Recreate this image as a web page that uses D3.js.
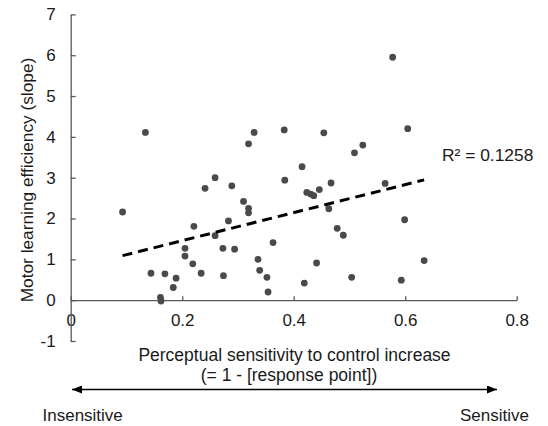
<!DOCTYPE html>
<html>
<head>
<meta charset="utf-8">
<script src="https://cdn.jsdelivr.net/npm/d3@7"></script>
<style>
  body { margin: 0; background: #fff; }
  text { font-family: "Liberation Sans", Arial, sans-serif; fill: #1a1a1a; }
  .axis text { font-size: 17px; }
  .axis path, .axis line { stroke: #595959; stroke-width: 1.3; }
</style>
</head>
<body>
<div class="chart"></div>
<script>
// sensitivity (x) and slope (y)
const sensitivity = [0.134, 0.093, 0.241, 0.259, 0.289, 0.221, 0.283, 0.259, 0.205, 0.205,
  0.273, 0.294, 0.219, 0.144, 0.169, 0.189, 0.234, 0.274, 0.184, 0.161,
  0.162, 0.329, 0.319, 0.383, 0.454, 0.524, 0.509, 0.415, 0.384, 0.467,
  0.4235, 0.4305, 0.436, 0.446, 0.310, 0.319, 0.319, 0.463, 0.478, 0.489,
  0.363, 0.336, 0.339, 0.352, 0.354, 0.441, 0.419, 0.504, 0.5775, 0.6045,
  0.564, 0.599, 0.634, 0.593]
const slope = [4.11, 2.16, 2.74, 3.00, 2.80, 1.81, 1.94, 1.58, 1.27, 1.08,
  1.27, 1.25, 0.89, 0.66, 0.645, 0.54, 0.66, 0.60, 0.31, 0.07,
  -0.02, 4.11, 3.83, 4.17, 4.10, 3.80, 3.61, 3.27, 2.94, 2.87,
  2.64, 2.60, 2.56, 2.71, 2.42, 2.25, 2.14, 2.24, 1.76, 1.59,
  1.41, 1.00, 0.73, 0.56, 0.20, 0.91, 0.42, 0.56, 5.95, 4.20,
  2.86, 1.97, 0.97, 0.49]
const xTicks = [0, 0.2, 0.4, 0.6, 0.8]
const yTicks = [-1, 0, 1, 2, 3, 4, 5, 6, 7]
const trendIntercept = 0.772
const trendSlope = 3.43
const rSquared = "R² = 0.1258"

const data = sensitivity.map((s, i) => ({x: s, y: slope[i]}))

const width = 548, height = 426

const svg = d3.select('.chart').append('svg')
    .attr('width', width)
    .attr('height', height)

const xScale = d3.scaleLinear().domain([0, 0.8]).range([70.7, 516.7])
const yScale = d3.scaleLinear().domain([-1, 7]).range([341, 14.4])

const xAxis = d3.axisBottom(xScale)
    .tickValues(xTicks)
    .tickFormat(d => d === 0 ? '0' : d3.format('.1f')(d))
    .tickSizeInner(-4)
    .tickSizeOuter(0)
    .tickPadding(14)

const yAxis = d3.axisLeft(yScale)
    .tickValues(yTicks)
    .tickFormat(d => String(d))   // plain hyphen for -1
    .tickSizeInner(-5)
    .tickSizeOuter(0)
    .tickPadding(15)

svg.append('g')
    .attr('class', 'axis x-axis')
    .attr('transform', `translate(0, ${yScale(0)})`)
    .call(xAxis)

svg.append('g')
    .attr('class', 'axis y-axis')
    .attr('transform', `translate(${xScale(0)}, 0)`)
    .call(yAxis)

svg.selectAll('.dot')
    .data(data)
    .enter()
    .append('circle')
    .attr('class', 'dot')
    .attr('cx', d => xScale(d.x))
    .attr('cy', d => yScale(d.y))
    .attr('r', 3.4)
    .style('fill', '#4a4a4a')

// linear trend line
const xMin = d3.min(sensitivity), xMax = d3.max(sensitivity)
svg.append('line')
    .attr('x1', xScale(xMin))
    .attr('y1', yScale(trendIntercept + trendSlope * xMin))
    .attr('x2', xScale(xMax))
    .attr('y2', yScale(trendIntercept + trendSlope * xMax))
    .style('stroke', '#000')
    .style('stroke-width', 3)
    .style('stroke-dasharray', '10,6')

svg.append('text')
    .attr('x', 442)
    .attr('y', 161)
    .style('font-size', '17.4px')
    .text(rSquared)

svg.append('text')
    .attr('transform', 'translate(33,180) rotate(-90)')
    .style('text-anchor', 'middle')
    .style('font-size', '17.3px')
    .text('Motor learning efficiency (slope)')

svg.append('text')
    .attr('x', 294.5)
    .attr('y', 361)
    .style('text-anchor', 'middle')
    .style('font-size', '17.5px')
    .text('Perceptual sensitivity to control increase')

svg.append('text')
    .attr('x', 289)
    .attr('y', 381)
    .style('text-anchor', 'middle')
    .style('font-size', '17.5px')
    .text('(= 1 - [response point])')

// double-headed arrow
const defs = svg.append('defs')
defs.append('marker')
    .attr('id', 'head')
    .attr('viewBox', '0 0 10 8')
    .attr('refX', 10)
    .attr('refY', 4)
    .attr('markerWidth', 10)
    .attr('markerHeight', 8)
    .attr('markerUnits', 'userSpaceOnUse')
    .attr('orient', 'auto-start-reverse')
    .append('path')
    .attr('d', 'M0,0 L10,4 L0,8 Z')
    .style('fill', '#000')

svg.append('line')
    .attr('x1', 72)
    .attr('y1', 389.5)
    .attr('x2', 497)
    .attr('y2', 389.5)
    .style('stroke', '#000')
    .style('stroke-width', 1.3)
    .attr('marker-start', 'url(#head)')
    .attr('marker-end', 'url(#head)')

svg.append('text')
    .attr('x', 42.5)
    .attr('y', 421)
    .style('font-size', '17px')
    .text('Insensitive')

svg.append('text')
    .attr('x', 529)
    .attr('y', 421)
    .style('text-anchor', 'end')
    .style('font-size', '17px')
    .text('Sensitive')
</script>
</body>
</html>
